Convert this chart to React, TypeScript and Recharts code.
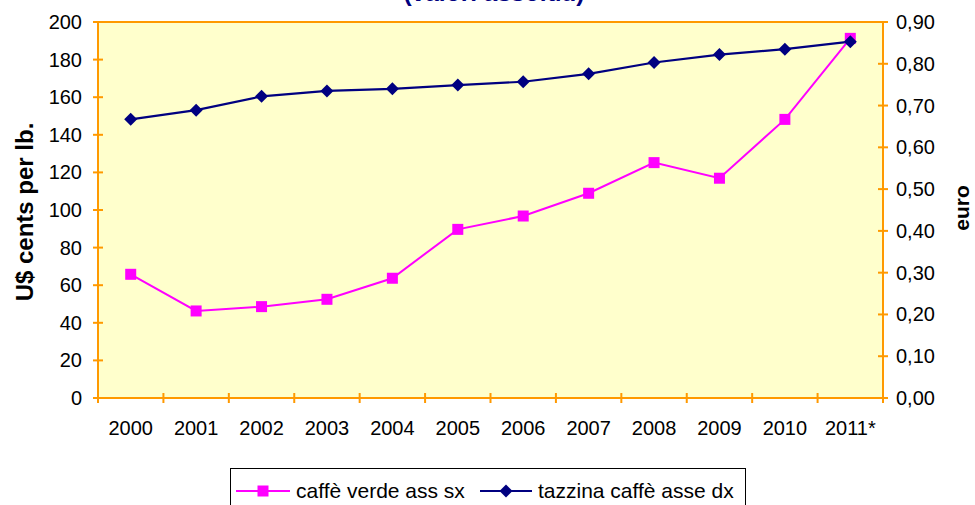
import React from 'react';
import {
  LineChart,
  Line,
  XAxis,
  YAxis,
  ReferenceArea,
} from 'recharts';

// anni (2011 stimato)
const years = ['2000', '2001', '2002', '2003', '2004', '2005', '2006', '2007', '2008', '2009', '2010', '2011*'];
// caffè verde, U$ cents per lb. (asse sx)
const caffeVerde = [65.8, 46.3, 48.6, 52.5, 63.7, 89.7, 96.8, 108.9, 125.2, 116.9, 148.2, 191.3];
// tazzina di caffè, euro (asse dx)
const tazzina = [0.667, 0.689, 0.722, 0.735, 0.74, 0.749, 0.757, 0.776, 0.803, 0.822, 0.835, 0.853];

const leftTicks = [0, 20, 40, 60, 80, 100, 120, 140, 160, 180, 200];
const rightTicks = [0, 0.1, 0.2, 0.3, 0.4, 0.5, 0.6, 0.7, 0.8, 0.9];
// bordi delle categorie, stile Excel
const xBounds = years.map((_, i) => i - 0.5).concat(years.length - 0.5);

const data = years.map((year, i) => ({
  idx: i,
  year,
  verde: caffeVerde[i],
  tazzina: tazzina[i],
}));

const W = 975;
const H = 505;
const LEFT_W = 98;
const RIGHT_W = 92;
const BAND = (W - LEFT_W - RIGHT_W) / years.length;

const ORANGE = '#FF9900';
const PINK = '#FF00FF';
const NAVY = '#000080';
const FONT = '"Liberation Sans", Arial, sans-serif';
const TICK_FS = 20;

function XTick({ x, y, payload }: any) {
  const i = Math.round(payload.value + 0.5);
  const label = years[i];
  return (
    <g>
      <line x1={x} y1={y - 5} x2={x} y2={y + 5} stroke={ORANGE} strokeWidth={2} />
      {label && (
        <text x={x + BAND / 2} y={y + 30} textAnchor="middle" dominantBaseline="central"
          fontSize={TICK_FS} fontFamily={FONT} fill="#000">
          {label}
        </text>
      )}
    </g>
  );
}

function LeftTick({ x, y, payload }: any) {
  return (
    <g>
      <line x1={x - 5} y1={y} x2={x + 5} y2={y} stroke={ORANGE} strokeWidth={2} />
      <text x={x - 16} y={y} textAnchor="end" dominantBaseline="central"
        fontSize={TICK_FS} fontFamily={FONT} fill="#000">
        {payload.value}
      </text>
    </g>
  );
}

function RightTick({ x, y, payload }: any) {
  return (
    <g>
      <line x1={x - 5} y1={y} x2={x + 5} y2={y} stroke={ORANGE} strokeWidth={2} />
      <text x={x + 13} y={y} textAnchor="start" dominantBaseline="central"
        fontSize={TICK_FS} fontFamily={FONT} fill="#000">
        {Number(payload.value).toFixed(2).replace('.', ',')}
      </text>
    </g>
  );
}

function SquareDot({ cx, cy }: any) {
  if (cx == null || cy == null) return null;
  return <rect x={cx - 5.5} y={cy - 5.5} width={11} height={11} fill={PINK} />;
}

function DiamondDot({ cx, cy }: any) {
  if (cx == null || cy == null) return null;
  const r = 6.5;
  return (
    <polygon
      points={`${cx},${cy - r} ${cx + r},${cy} ${cx},${cy + r} ${cx - r},${cy}`}
      fill={NAVY}
    />
  );
}

export default function App() {
  return (
    <div
      style={{
        position: 'absolute',
        left: 0,
        top: 0,
        width: W,
        height: H,
        overflow: 'hidden',
        background: '#fff',
        fontFamily: FONT,
      }}
    >
      <svg width={W} height={30} style={{ position: 'absolute', left: 0, top: 0 }}>
        <text x={494} y={1} textAnchor="middle" fontSize={24.5} fontWeight="bold" fontFamily={FONT} fill={NAVY}>
          (valori assoluti)
        </text>
      </svg>

      <LineChart
        width={W}
        height={H}
        data={data}
        margin={{ top: 22, right: 0, bottom: 67, left: 0 }}
      >
        <XAxis
          dataKey="idx"
          type="number"
          domain={[-0.5, years.length - 0.5]}
          ticks={xBounds}
          interval={0}
          height={40}
          tickSize={0}
          tickMargin={0}
          tickLine={false}
          axisLine={{ stroke: ORANGE, strokeWidth: 2 }}
          tick={<XTick />}
        />
        <YAxis
          yAxisId="left"
          domain={[0, 200]}
          ticks={leftTicks}
          interval={0}
          width={LEFT_W}
          tickSize={0}
          tickMargin={0}
          tickLine={false}
          axisLine={{ stroke: ORANGE, strokeWidth: 2 }}
          tick={<LeftTick />}
        />
        <YAxis
          yAxisId="right"
          orientation="right"
          domain={[0, 0.9]}
          ticks={rightTicks}
          interval={0}
          width={RIGHT_W}
          tickSize={0}
          tickMargin={0}
          tickLine={false}
          axisLine={{ stroke: ORANGE, strokeWidth: 2 }}
          tick={<RightTick />}
        />
        <ReferenceArea
          yAxisId="left"
          x1={-0.5}
          x2={years.length - 0.5}
          y1={0}
          y2={200}
          fill="#FFFFCC"
          fillOpacity={1}
          stroke={ORANGE}
          strokeWidth={2}
        />
        <Line
          yAxisId="left"
          dataKey="verde"
          stroke={PINK}
          strokeWidth={2}
          dot={<SquareDot />}
          activeDot={false}
          isAnimationActive={false}
        />
        <Line
          yAxisId="right"
          dataKey="tazzina"
          stroke={NAVY}
          strokeWidth={2.2}
          dot={<DiamondDot />}
          activeDot={false}
          isAnimationActive={false}
        />
      </LineChart>

      {/* titoli degli assi */}
      <div
        style={{
          position: 'absolute',
          left: 25,
          top: 212,
          transform: 'translate(-50%, -50%) rotate(-90deg)',
          whiteSpace: 'nowrap',
          fontSize: 24,
          fontWeight: 'bold',
          color: '#000',
        }}
      >
        U$ cents per lb.
      </div>
      <div
        style={{
          position: 'absolute',
          left: 962,
          top: 208,
          transform: 'translate(-50%, -50%) rotate(-90deg)',
          whiteSpace: 'nowrap',
          fontSize: 21,
          fontWeight: 'bold',
          color: '#000',
        }}
      >
        euro
      </div>

      {/* legenda */}
      <div
        style={{
          position: 'absolute',
          left: 230,
          top: 468,
          width: 514,
          height: 40,
          border: '1.5px solid #000',
          background: '#fff',
          fontSize: 21,
        }}
      >
        <svg width={54} height={14} style={{ position: 'absolute', left: 5, top: 15 }}>
          <line x1={0} y1={7} x2={54} y2={7} stroke={PINK} strokeWidth={2} />
          <rect x={21.5} y={1.5} width={11} height={11} fill={PINK} />
        </svg>
        <span style={{ position: 'absolute', left: 65, top: 10, lineHeight: '24px', whiteSpace: 'nowrap' }}>
          caffè verde ass sx
        </span>
        <svg width={52} height={14} style={{ position: 'absolute', left: 249, top: 15 }}>
          <line x1={0} y1={7} x2={52} y2={7} stroke={NAVY} strokeWidth={2.2} />
          <polygon points="26,0.5 32.5,7 26,13.5 19.5,7" fill={NAVY} />
        </svg>
        <span style={{ position: 'absolute', left: 307, top: 10, lineHeight: '24px', whiteSpace: 'nowrap' }}>
          tazzina caffè asse dx
        </span>
      </div>
    </div>
  );
}
